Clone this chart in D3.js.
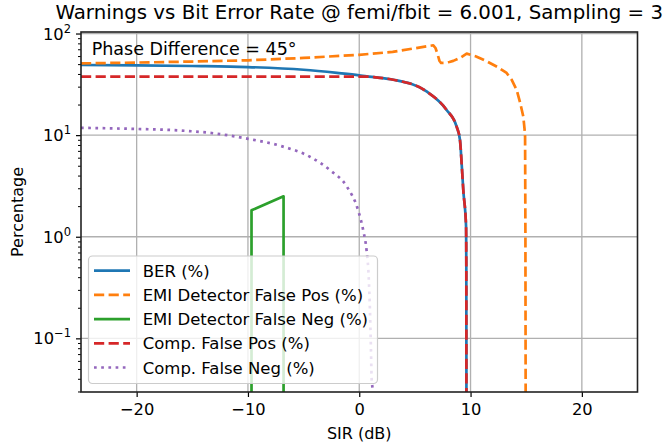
<!DOCTYPE html>
<html lang="en">
<head>
  <meta charset="utf-8">
  <title>Warnings vs Bit Error Rate</title>
  <style>
    body { margin: 0; background: #fff; }
    text { font-family: "DejaVu Sans", sans-serif; fill: #000; }
  </style>
</head>
<body>
  <script src="https://d3js.org/d3.v7.min.js"></script>
  <script>
    var width = 668;
    var height = 448;

    // data
    var xTicks = [-20, -10, 0, 10, 20];
    var yTicks = [0.1, 1, 10, 100];
    var yTickExp = ["\u22121", "0", "1", "2"];

    var berX = [-25, -20, -15, -10, -5, -2, 0, 0.66, 1.5, 3.06, 6.05, 7.85, 8.75, 9.05, 9.2, 9.35, 9.6, 9.62, 9.63, 9.65, 25];
    var berY = [49.0, 48.6, 47.9, 46.8, 44.0, 41.0, 38.8, 37.9, 37.0, 35.1, 26.9, 17.7, 12.1, 8.96, 5.25, 2.86, 1.24, 0.5, 0.03, 0, 0];

    var efpX = [-25, -20, -15, -10, -5, 0, 3, 6.65, 6.85, 7.05, 7.2, 7.35, 7.7, 8.1, 8.45, 9.05, 9.65, 10.5, 11.5, 12.4, 13.24, 13.7, 14.14, 14.45, 14.74, 14.85, 14.9, 14.93, 14.95, 14.97, 25];
    var efpY = [50.8, 51.8, 53.0, 54.5, 57.5, 61.7, 66.0, 76.6, 72.0, 62.0, 54.0, 51.3, 51.5, 52.5, 53.8, 57.5, 63.4, 59.5, 53.0, 47.0, 40.9, 35.0, 27.9, 21.0, 15.2, 11.5, 9.6, 1.0, 0.03, 0, 0];

    var efnX = [-25, -9.68, -9.68, -6.8, -6.8, 25];
    var efnY = [0, 0, 1.82, 2.5, 0, 0];

    var cfpX = [-25, 0.9, 1.5, 3.06, 6.05, 7.85, 8.75, 9.05, 9.2, 9.35, 9.6, 9.62, 9.63, 9.65, 25];
    var cfpY = [37.6, 37.6, 37.0, 35.1, 26.9, 17.7, 12.1, 8.96, 5.25, 2.86, 1.24, 0.5, 0.03, 0, 0];

    var cfnX = [-25, -20, -16, -13, -10, -7, -4.4, -2.6, -1.1, -0.1, 0.36, 0.66, 0.85, 0.96, 1.05, 1.11, 1.2, 1.25, 25];
    var cfnY = [11.8, 11.5, 11.1, 10.4, 9.2, 7.8, 6.1, 4.5, 3.1, 1.82, 1.15, 0.73, 0.4, 0.19, 0.08, 0.041, 0.03, 0, 0];

    var seriesNames = ["BER (%)", "EMI Detector False Pos (%)", "EMI Detector False Neg (%)", "Comp. False Pos (%)", "Comp. False Neg (%)"];
    var seriesX = [berX, efpX, efnX, cfpX, cfnX];
    var seriesY = [berY, efpY, efnY, cfpY, cfnY];
    var colors = ["#1f77b4", "#ff7f0e", "#2ca02c", "#d62728", "#9467bd"];
    var dashes = [null, "10.2,4.4", null, "10.2,4.4", "2.7,4.5"];
    var curves = [d3.curveMonotoneX, d3.curveLinear, d3.curveLinear, d3.curveMonotoneX, d3.curveMonotoneX];

    // plot box (window.top is read-only, so no bare "top")
    var pLeft = 81, pRight = 637.5, pTop = 32, pBottom = 392;

    var x = d3.scaleLinear().domain([-25, 25]).range([pLeft, pRight]);
    var y = d3.scaleLog().domain([Math.pow(10, -1.528), Math.pow(10, 2.015)]).range([pBottom, pTop]);

    var svg = d3.select("body").append("svg")
                .attr("width", width)
                .attr("height", height);

    svg.append("defs").append("clipPath")
       .attr("id", "plot-clip")
       .append("rect")
       .attr("x", pLeft)
       .attr("y", pTop)
       .attr("width", pRight - pLeft)
       .attr("height", pBottom - pTop);

    // grid
    var grid = svg.append("g");
    grid.selectAll(".gx").data(xTicks).enter().append("line")
        .attr("x1", function(d){ return x(d); })
        .attr("x2", function(d){ return x(d); })
        .attr("y1", pTop)
        .attr("y2", pBottom)
        .attr("stroke", "#b0b0b0")
        .attr("stroke-width", 1.3);
    grid.selectAll(".gy").data(yTicks).enter().append("line")
        .attr("x1", pLeft)
        .attr("x2", pRight)
        .attr("y1", function(d){ return y(d); })
        .attr("y2", function(d){ return y(d); })
        .attr("stroke", "#b0b0b0")
        .attr("stroke-width", 1.3);

    // lines
    var lines = svg.append("g").attr("clip-path", "url(#plot-clip)");
    for (var i = 0; i < seriesNames.length; i++) {
      var pts = seriesX[i].map(function(v, j){ return [v, seriesY[i][j]]; });
      var line = d3.line()
                   .curve(curves[i])
                   .x(function(d){ return x(d[0]); })
                   .y(function(d){ return d[1] > 0 ? y(d[1]) : pBottom + 60; });
      lines.append("path")
           .attr("d", line(pts))
           .attr("fill", "none")
           .attr("stroke", colors[i])
           .attr("stroke-width", 2.7)
           .attr("stroke-dasharray", dashes[i])
           .attr("stroke-linejoin", "round");
    }

    // axes
    var xAxis = d3.axisBottom(x).tickValues(xTicks).tickSizeInner(5).tickSizeOuter(0).tickPadding(6)
                  .tickFormat(function(d){ return d < 0 ? "\u2212" + (-d) : d; });
    var gx = svg.append("g").attr("transform", "translate(0," + pBottom + ")").call(xAxis);
    gx.select(".domain").remove();
    gx.selectAll("line").attr("stroke", "#000").attr("stroke-width", 1.2);
    gx.selectAll("text").attr("font-size", 16.3).attr("font-family", "DejaVu Sans").attr("fill", "#000");

    var minor = [];
    for (var d = -2; d <= 2; d++) {
      for (var k = 2; k <= 9; k++) {
        var v = k * Math.pow(10, d);
        if (v > y.domain()[0] && v < y.domain()[1]) minor.push(v);
      }
    }
    var yAxisMinor = d3.axisLeft(y).tickValues(minor).tickSizeInner(3).tickSizeOuter(0).tickFormat("");
    var gym = svg.append("g").attr("transform", "translate(" + pLeft + ",0)").call(yAxisMinor);
    gym.select(".domain").remove();
    gym.selectAll("line").attr("stroke", "#000").attr("stroke-width", 1);

    var yAxis = d3.axisLeft(y).tickValues(yTicks).tickSizeInner(5).tickSizeOuter(0).tickFormat("");
    var gy = svg.append("g").attr("transform", "translate(" + pLeft + ",0)").call(yAxis);
    gy.select(".domain").remove();
    gy.selectAll("line").attr("stroke", "#000").attr("stroke-width", 1.2);

    var ylab = svg.append("g").selectAll("text").data(yTicks).enter().append("text")
                  .attr("x", pLeft - 10)
                  .attr("y", function(d){ return y(d) + 6; })
                  .attr("text-anchor", "end")
                  .attr("font-size", 16.3);
    ylab.append("tspan").text("10");
    ylab.append("tspan")
        .attr("dy", -7)
        .attr("font-size", 11.5)
        .text(function(d, i){ return yTickExp[i]; });

    // frame
    svg.append("rect")
       .attr("x", pLeft)
       .attr("y", pTop)
       .attr("width", pRight - pLeft)
       .attr("height", pBottom - pTop)
       .attr("fill", "none")
       .attr("stroke", "#222")
       .attr("stroke-width", 1.6);

    // texts
    svg.append("text")
       .attr("x", (pLeft + pRight) / 2)
       .attr("y", 18.5)
       .attr("text-anchor", "middle")
       .attr("font-size", 19.8)
       .text("Warnings vs Bit Error Rate @ femi/fbit = 6.001, Sampling = 3");

    svg.append("text")
       .attr("x", (pLeft + pRight) / 2)
       .attr("y", 439)
       .attr("text-anchor", "middle")
       .attr("font-size", 16)
       .text("SIR (dB)");

    svg.append("text")
       .attr("transform", "translate(23," + ((pTop + pBottom) / 2) + ") rotate(-90)")
       .attr("text-anchor", "middle")
       .attr("font-size", 16)
       .text("Percentage");

    svg.append("text")
       .attr("x", 91.7)
       .attr("y", 55)
       .attr("font-size", 17.5)
       .text("Phase Difference = 45\u00b0");

    // legend
    var legend = svg.append("g");
    legend.append("rect")
          .attr("x", 88.5)
          .attr("y", 256)
          .attr("width", 289)
          .attr("height", 127.5)
          .attr("rx", 4)
          .attr("fill", "#fff")
          .attr("fill-opacity", 0.8)
          .attr("stroke", "#cccccc")
          .attr("stroke-width", 1.2);

    var rows = legend.selectAll(".row").data(seriesNames).enter().append("g")
                     .attr("transform", function(d, i){ return "translate(0," + (270.7 + i * 24.2) + ")"; });
    rows.append("line")
        .attr("x1", 94)
        .attr("x2", 130)
        .attr("stroke", function(d, i){ return colors[i]; })
        .attr("stroke-width", 2.7)
        .attr("stroke-dasharray", function(d, i){ return dashes[i]; });
    rows.append("text")
        .attr("x", 142.7)
        .attr("y", 6)
        .attr("font-size", 16.5)
        .text(function(d){ return d; });
  </script>
</body>
</html>
